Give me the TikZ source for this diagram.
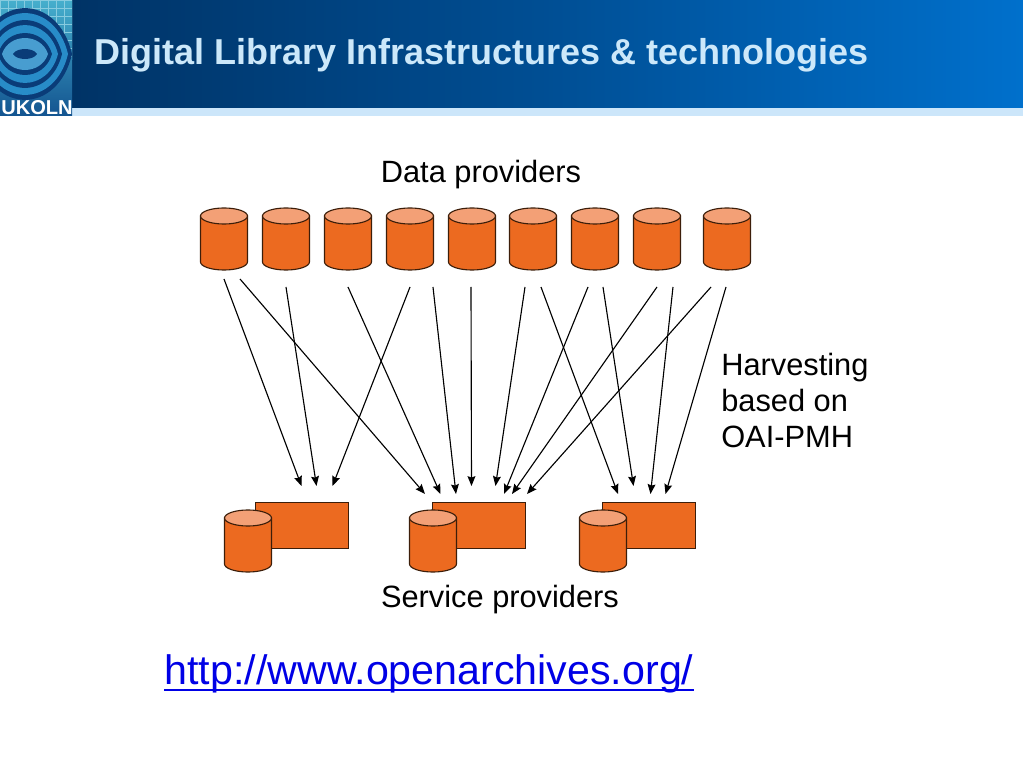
\documentclass[tikz,border=0pt]{standalone}
\usepackage{fontspec}
\setmainfont{Liberation Sans}
\usetikzlibrary{arrows.meta,positioning}
\definecolor{barorange}{RGB}{236,106,32}
\definecolor{caporange}{RGB}{243,160,118}
\definecolor{edgebrown}{RGB}{60,30,10}
\definecolor{headdark}{RGB}{0,51,102}
\definecolor{headblue}{RGB}{0,112,204}
\definecolor{stripblue}{RGB}{204,230,250}
\definecolor{titleblue}{RGB}{204,232,250}
\definecolor{logoteal}{RGB}{70,175,205}
\definecolor{logodark}{RGB}{10,60,120}
\definecolor{logomid}{RGB}{40,140,200}
\definecolor{linkblue}{RGB}{0,0,230}
\tikzset{
  store/.pic={
    \draw[edgebrown,line width=.8pt,fill=barorange] (-23.5,-23) -- (-23.5,23)
      arc[start angle=180,end angle=360,x radius=16.7pt,y radius=5.7pt] -- (23.5,-23) -- cycle;
    \draw[edgebrown,line width=.8pt,fill=caporange] (0,-23) ellipse [x radius=16.7pt,y radius=5.7pt];
  },
  service/.style={rectangle,draw=edgebrown,line width=.6pt,fill=barorange,minimum width=66pt,minimum height=33pt,inner sep=0pt},
  caption/.style={font=\fontsize{21.9}{25.6}\selectfont,align=left}
}
\begin{document}
\begin{tikzpicture}[x=.25mm,y=-.25mm,>={Stealth[length=7pt,width=5.6pt,inset=1pt]}]
\useasboundingbox (0,0) rectangle (1023,767);
% header
\fill[left color=headdark,right color=headblue,middle color=headdark!55!headblue] (72,0) rectangle (1023,108);
\fill[stripblue] (72,108) rectangle (1023,116);
\node[anchor=west,text=titleblue,font=\bfseries\fontsize{25.6}{30}\selectfont,inner sep=0pt] (title) at (94,55) {Digital Library Infrastructures \& technologies};
% logo
\begin{scope}
\clip (0,0) rectangle (72,116);
\fill[top color=logoteal,bottom color=logodark!70!logomid] (0,0) rectangle (72,116);
\draw[logoteal!65!white,line width=.2pt,step=2mm] (0,0) grid (72,60);
\foreach \w/\h/\col in {47/46/logodark,43/41/logomid,37/34/logodark,33/29/logomid,27/21/logodark,23/16/logomid!85!white,12/5/logodark}{
  \fill[\col] (-\w+25,54) .. controls (-\w*.7+25,54-\h*1.33) and (\w*.7+25,54-\h*1.33) .. (\w+25,54)
    .. controls (\w*.7+25,54+\h*1.33) and (-\w*.7+25,54+\h*1.33) .. (-\w+25,54) -- cycle;
}
\end{scope}
\node[anchor=south west,text=white,font=\bfseries\fontsize{14.3}{16}\selectfont,inner sep=0pt] (logotext) at (1,114.5) {UKOLN};
% data providers
\foreach \n/\x in {1/224,2/286,3/348,4/410,5/472,6/533,7/595,8/657,9/727}
  \pic (d\n) at (\x,239) {store};
\node[caption] (datalabel) at (481,175) {Data providers};
% service providers
\foreach \n/\x/\c in {1/302/248,2/479/433,3/649/603}{
  \node[service] (r\n) at (\x,525.5) {};
  \pic (c\n) at (\c,541) {store};
}
\node[caption] (servicelabel) at (500,600) {Service providers};
\node[caption,anchor=north west,inner sep=0pt] (harvest) at (721,353) {Harvesting\\based on\\OAI-PMH};
\node[font=\fontsize{29.3}{36}\selectfont,text=linkblue,inner sep=0pt] (link) at (429,674) {http://www.openarchives.org/};
\draw[linkblue,line width=1.4pt] ([yshift=2.6pt]link.south west) -- ([yshift=2.6pt]link.south east);
% free ends of the arrows
\foreach \n/\x/\y in {1/224/279,2/240/279,3/286/287,4/348/287,5/410/287,6/433/287,7/471/287,8/525/287,9/588/287,
    10/657/287,11/711/287,12/541/287,13/603/287,14/673/287,15/726/287}
  \coordinate (s\n) at (\x,\y);
\foreach \n/\x/\y in {1/301.5/486,2/425/494,3/316.5/486,4/440.5/494,5/332.5/486,6/456/494,7/471.5/486,8/495.5/486,9/504/494,
    10/512/494,11/527/494,12/618/494,13/633.5/486,14/650.5/494,15/665.5/494}
  \coordinate (e\n) at (\x,\y);
\foreach \n in {1,...,15}
  \draw[->,line width=.8pt] (s\n) -- (e\n);
\end{tikzpicture}
\end{document}
